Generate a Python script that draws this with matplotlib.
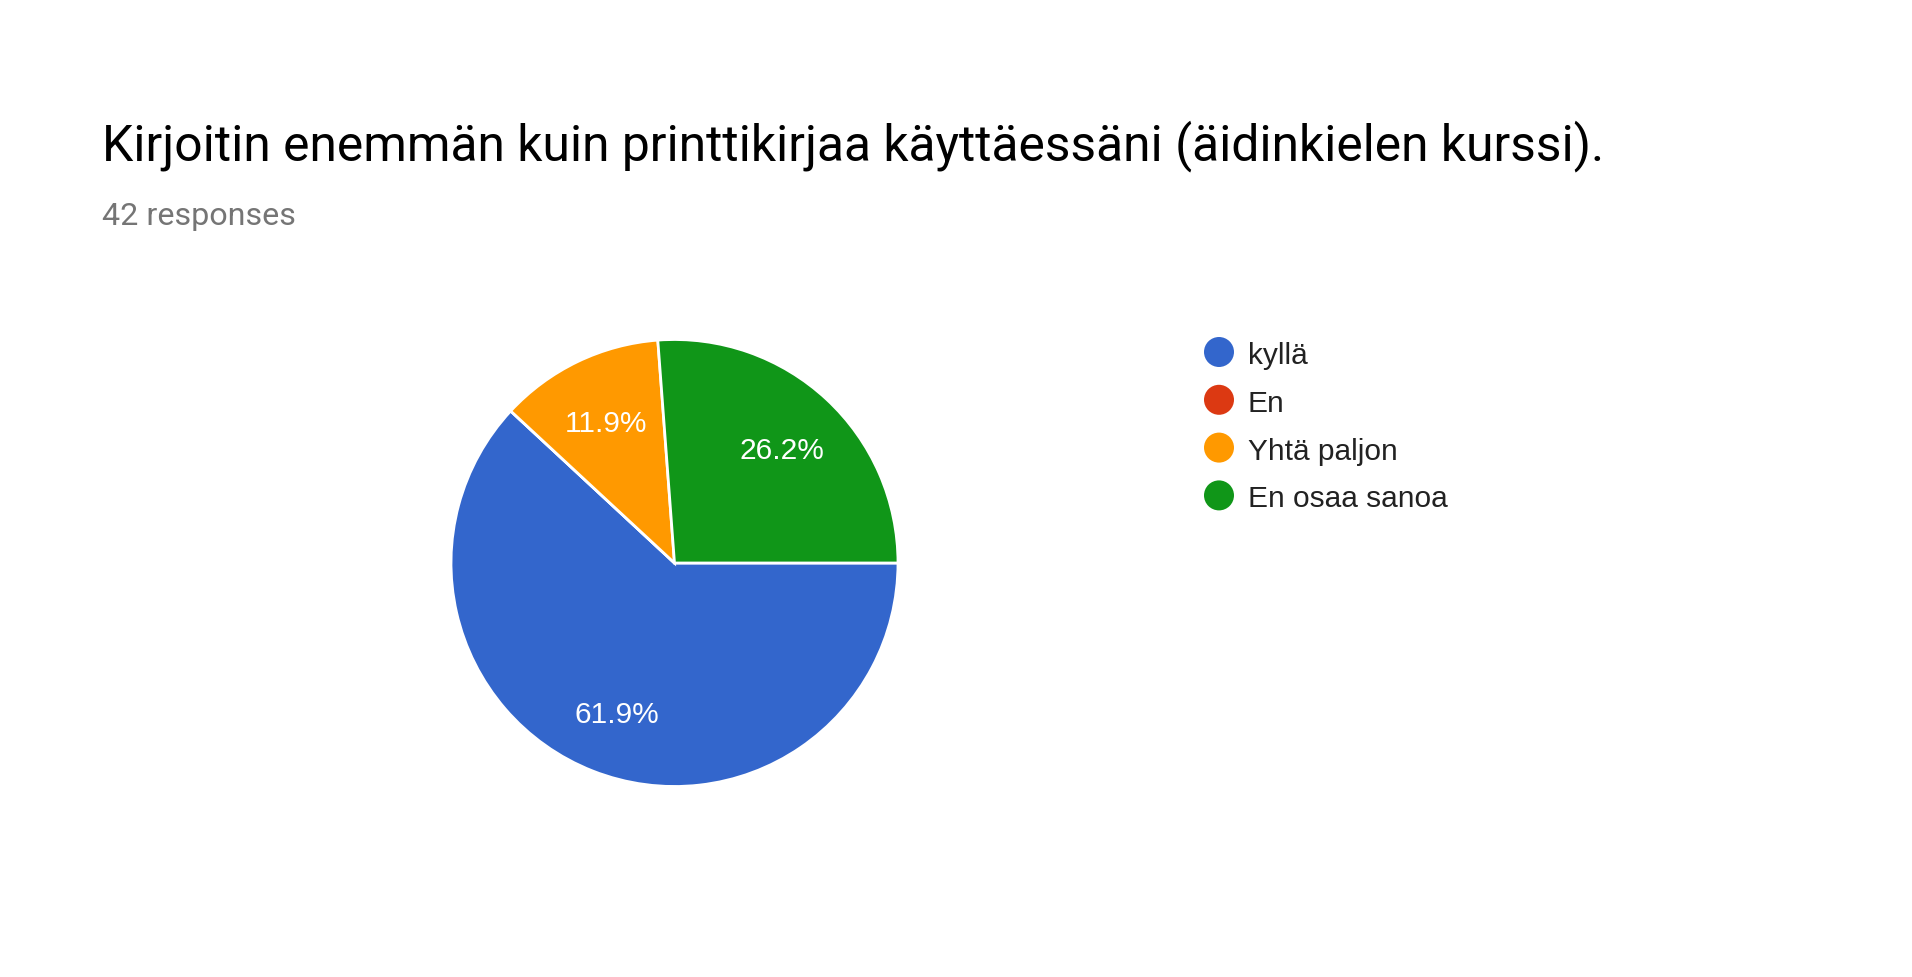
import matplotlib
matplotlib.use("Agg")
import matplotlib.pyplot as plt
from matplotlib.patches import Circle

plt.rcParams['font.family'] = ['Liberation Sans', 'DejaVu Sans']

title = "Kirjoitin enemmän kuin printtikirjaa käyttäessäni (äidinkielen kurssi)."
subtitle = "42 responses"
categories = ["kyllä", "En", "Yhtä paljon", "En osaa sanoa"]
counts = [26, 0, 5, 11]
colors = ["#3366CC", "#DC3912", "#FF9900", "#109618"]

W, H = 1912, 978
fig = plt.figure(figsize=(W / 100, H / 100), dpi=100)
fig.patch.set_facecolor("white")

# pie axes
cx, cy, r = 674.5, 564, 223.5
ax = fig.add_axes([(cx - r) / W, 1 - (cy + r) / H, 2 * r / W, 2 * r / H])

def fmt(p):
    return "" if p < 0.05 else f"{p:.1f}%"

wedges, texts, autotexts = ax.pie(
    counts, colors=colors, startangle=0, counterclock=False,
    autopct=fmt, pctdistance=0.71,
    wedgeprops=dict(edgecolor="white", linewidth=2),
    textprops=dict(color="white", fontsize=21.5),
)
for t in autotexts:
    t.set_va("center_baseline")
ax.set_xlim(-1, 1)
ax.set_ylim(-1, 1)
ax.set_aspect("equal")
ax.axis("off")

fig.text(102 / W, 1 - 160 / H, title, fontsize=35.8, color="#000000",
         family=["Roboto", "DejaVu Sans"], ha="left", va="baseline")
fig.text(102 / W, 1 - 225 / H, subtitle, fontsize=23.2, color="#757575",
         family=["Roboto", "DejaVu Sans"], ha="left", va="baseline")

# legend
lx, ly0, dy = 1219, 353, 47.8
for i, (lab, col) in enumerate(zip(categories, colors)):
    y = ly0 + i * dy
    fig.add_artist(Circle((lx, H - y), 15, transform=None, facecolor=col,
                          edgecolor="none"))
    fig.text(1248 / W, 1 - y / H, lab, fontsize=21.5, color="#222222",
             ha="left", va="center_baseline")

fig.savefig("out.png", dpi=100, facecolor="white")
